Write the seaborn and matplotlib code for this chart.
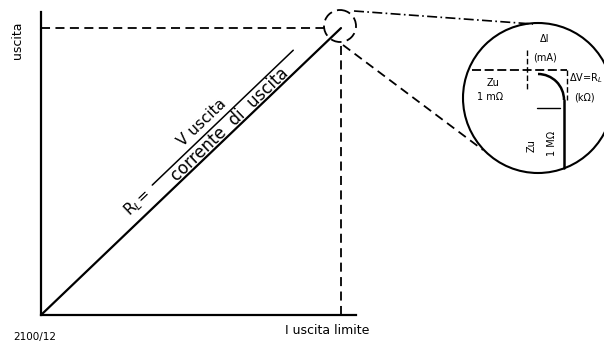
import numpy as np
import seaborn as sns
import matplotlib.pyplot as plt
import matplotlib.transforms as mtransforms
from matplotlib.patches import Circle, Arc

# retta di carico, normalizzata sul punto limite
i_out = [0.0, 1.0]
v_out = [0.0, 1.0]
i_lim = 1.0
v_lim = 1.0

x_label = "I uscita limite"
y_label = "uscita"
fig_code = "2100/12"
num_label = "V uscita"
den_label = "corrente  di  uscita"
rl_label = "R$_L$="

# scritte del dettaglio ingrandito
zoom_top = ["ΔI", "(mA)"]
zoom_left = ["Zu", "1 mΩ"]
zoom_right = ["ΔV=R$_L$", "(kΩ)"]
zoom_bottom = ["Zu", "1 MΩ"]

sns.set_theme(style="white")
plt.rcParams['font.family'] = ['DejaVu Sans']

fig = plt.figure(figsize=(6.04, 3.42), dpi=100)
fig.patch.set_facecolor('white')

# assi principali
ax = fig.add_axes([41/604, 27/342, 315/604, 303/342])
ax.set_facecolor('none')
sns.lineplot(x=i_out, y=v_out, ax=ax, color='black', lw=1.6)
ax.set_xlim(0, 1.05)
ax.set_ylim(0, 1.056)
for s in ['top', 'right']:
    ax.spines[s].set_visible(False)
for s in ['left', 'bottom']:
    ax.spines[s].set_color('black')
    ax.spines[s].set_linewidth(1.6)
ax.set_xticks([])
ax.set_yticks([])

# proiezioni tratteggiate del punto limite
ax.plot([0, 0.953 * i_lim], [v_lim, v_lim], color='black', lw=1.3,
        ls=(0, (5, 3)))
ax.plot([i_lim, i_lim], [0, 0.94 * v_lim], color='black', lw=1.3,
        ls=(0, (5, 3)))

# scritte lungo la retta
p0 = ax.transData.transform((0, 0))
p1 = ax.transData.transform((i_lim, v_lim))
ang = np.degrees(np.arctan2(p1[1] - p0[1], p1[0] - p0[0]))
nx, ny = -np.sin(np.radians(ang)), np.cos(np.radians(ang))

def along(t, off_px, txt, size):
    ax.annotate(txt, xy=(t * i_lim, t * v_lim),
                xytext=(nx * off_px * 0.72, ny * off_px * 0.72),
                textcoords='offset points', rotation=ang,
                rotation_mode='anchor', ha='center', va='center',
                fontsize=size, color='black')

along(0.645, 7, den_label, 12)
along(0.60, 28, num_label, 11)
along(0.355, 15, rl_label, 11)

tr = ax.transData + mtransforms.ScaledTranslation(nx * 17 / 100, ny * 17 / 100,
                                                  fig.dpi_scale_trans)
ax.plot([0.41 * i_lim, 0.88 * i_lim], [0.41 * v_lim, 0.88 * v_lim],
        color='black', lw=1.1, transform=tr)

# sovrapposizione in pixel per il dettaglio
ov = fig.add_axes([0, 0, 1, 1])
ov.set_xlim(0, 604)
ov.set_ylim(342, 0)
ov.axis('off')
ov.patch.set_visible(False)

ov.add_patch(Circle((340, 26), 16, fill=False, ec='black', lw=1.3,
                    ls=(0, (6, 3))))
ov.add_patch(Circle((538, 98), 75, fill=False, ec='black', lw=1.5,
                    clip_on=False))
ov.plot([354, 533], [11, 24], color='black', lw=1.2, ls=(0, (6, 2, 1, 2)))
ov.plot([343, 483], [45, 150], color='black', lw=1.3, ls=(0, (5, 3)))

# caratteristica nel cerchio
ov.add_patch(Arc((538, 100), 52, 52, theta1=270, theta2=360, color='black',
                 lw=1.8))
ov.plot([564, 564], [100, 168], color='black', lw=1.8)
ov.plot([537, 560], [108, 108], color='black', lw=1.0)
ov.plot([472, 567], [70, 70], color='black', lw=1.3, ls=(0, (5, 2)))
ov.plot([527, 527], [50, 90], color='black', lw=1.0, ls=(0, (4, 2)))
ov.plot([567, 567], [70, 100], color='black', lw=1.0, ls=(0, (4, 2)))

tk = dict(color='black', fontsize=7, ha='center', va='center')
ov.text(545, 39, zoom_top[0], **tk)
ov.text(545, 57, zoom_top[1], **tk)
ov.text(493, 83, zoom_left[0], **tk)
ov.text(490, 97, zoom_left[1], **tk)
ov.text(586, 78, zoom_right[0], **tk)
ov.text(584, 97, zoom_right[1], **tk)
ov.text(532, 146, zoom_bottom[0], rotation=90, **tk)
ov.text(552, 143, zoom_bottom[1], rotation=90, **tk)

# etichette degli assi
ov.text(18, 40, y_label, rotation=90, ha='center', va='center', fontsize=9,
        color='black')
ov.text(327, 331, x_label, ha='center', va='center', fontsize=9,
        color='black')
ov.text(35, 337, fig_code, ha='center', va='center', fontsize=7.5,
        color='black')

fig.savefig('out.png', dpi=100)
